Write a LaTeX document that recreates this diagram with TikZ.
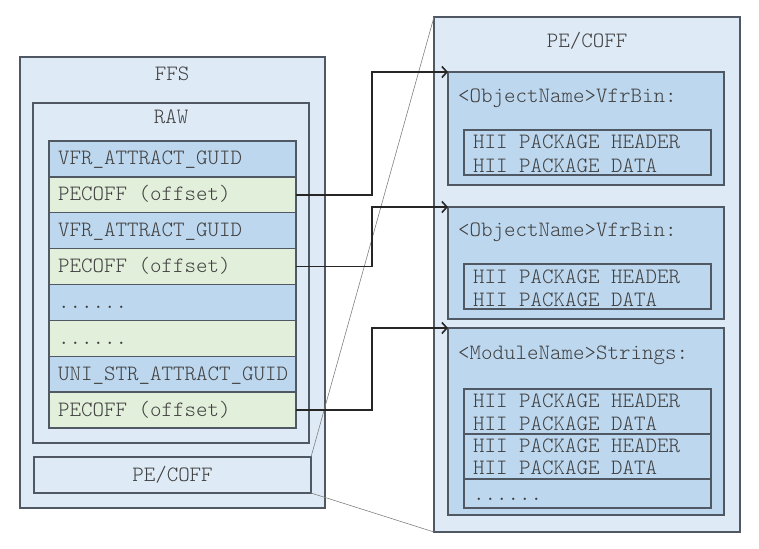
\documentclass[tikz,border=0pt]{standalone}
\usepackage{fontspec}
\newcommand\monof{\ttfamily\fontseries{l}\selectfont}
\usetikzlibrary{arrows.meta}
\definecolor{lb}{HTML}{DEEAF6}
\definecolor{mb}{HTML}{BDD7EE}
\definecolor{gr}{HTML}{E2EFDA}
\definecolor{bd}{HTML}{4F5863}
\definecolor{tx}{HTML}{404040}
\begin{document}
\begin{tikzpicture}[x=1pt,y=-1pt,
  box/.style={draw=bd, line width=1.3pt, inner sep=0pt, outer sep=0pt, anchor=north west},
  outer/.style={box, fill=lb},
  rowb/.style={box, fill=mb, minimum width=247, minimum height=35.9},
  rowg/.style={box, fill=gr, minimum width=247, minimum height=35.9},
  sub/.style={box, fill=mb, minimum width=276},
  hii/.style={box, fill=mb, minimum width=247},
  txt/.style={font=\fontsize{21.9}{26}\monof, text=tx, inner sep=0pt, anchor=base west},
  ttl/.style={font=\fontsize{21.9}{26}\monof, text=tx, inner sep=0pt, anchor=base},
  conn/.style={draw=black!85, line width=1.6pt, -{Straight Barb[length=5pt,width=11pt,line width=1.6pt]}},
  diag/.style={draw=black!50, line width=0.6pt}
]
\useasboundingbox (0,0) rectangle (759,548);

% left side
\node[outer, minimum width=305, minimum height=451] (ffs) at (20,57) {};
\node[ttl] (ffst) at (172,81) {FFS};
\node[outer, minimum width=276, minimum height=340] (raw) at (33,103) {};
\node[ttl] (rawt) at (171,124) {RAW};

\node[rowb] (r1) at (49,141) {};
\node[rowg] (r2) at (49,176.9) {};
\node[rowb] (r3) at (49,212.8) {};
\node[rowg] (r4) at (49,248.6) {};
\node[rowb] (r5) at (49,284.5) {};
\node[rowg] (r6) at (49,320.4) {};
\node[rowb] (r7) at (49,356.3) {};
\node[rowg] (r8) at (49,392.1) {};

\node[txt] (t1) at ([xshift=9pt,yshift=-6pt]r1.west) {VFR\_ATTRACT\_GUID};
\node[txt] (t2) at ([xshift=9pt,yshift=-6pt]r2.west) {PECOFF (offset)};
\node[txt] (t3) at ([xshift=9pt,yshift=-6pt]r3.west) {VFR\_ATTRACT\_GUID};
\node[txt] (t4) at ([xshift=9pt,yshift=-6pt]r4.west) {PECOFF (offset)};
\node[txt] (t5) at ([xshift=9pt,yshift=-6pt]r5.west) {......};
\node[txt] (t6) at ([xshift=9pt,yshift=-6pt]r6.west) {......};
\node[txt] (t7) at ([xshift=9pt,yshift=-6pt]r7.west) {UNI\_STR\_ATTRACT\_GUID};
\node[txt] (t8) at ([xshift=9pt,yshift=-6pt]r8.west) {PECOFF (offset)};

\node[outer, minimum width=277, minimum height=36] (pe) at (34,457) {};
\node[ttl] (pet) at (172.5,481) {PE/COFF};

% right side
\node[outer, minimum width=306, minimum height=515] (big) at (434,17) {};
\node[ttl] (bigt) at (587,48) {PE/COFF};

\node[sub, minimum height=113] (s1) at (448,72) {};
\node[txt] (s1t) at (458,103) {<ObjectName>VfrBin:};
\node[hii, minimum height=45] (h1) at (464,130) {};
\node[txt] (h1a) at (473,149) {HII PACKAGE HEADER};
\node[txt] (h1b) at (473,172) {HII PACKAGE DATA};

\node[sub, minimum height=112] (s2) at (448,207) {};
\node[txt] (s2t) at (458,236) {<ObjectName>VfrBin:};
\node[hii, minimum height=45] (h2) at (464,264) {};
\node[txt] (h2a) at (473,283) {HII PACKAGE HEADER};
\node[txt] (h2b) at (473,306) {HII PACKAGE DATA};

\node[sub, minimum height=187] (s3) at (448,328) {};
\node[txt] (s3t) at (458,359) {<ModuleName>Strings:};
\node[hii, minimum height=45] (h3a) at (464,389) {};
\node[hii, minimum height=45] (h3b) at (464,434) {};
\node[hii, minimum height=29] (h3c) at (464,479) {};
\node[txt] (h3a1) at (473,407) {HII PACKAGE HEADER};
\node[txt] (h3a2) at (473,430) {HII PACKAGE DATA};
\node[txt] (h3b1) at (473,452) {HII PACKAGE HEADER};
\node[txt] (h3b2) at (473,474) {HII PACKAGE DATA};
\node[txt] (h3c1) at (473,500) {......};

% zoom lines
\draw[diag] (pe.north east) -- (big.north west);
\draw[diag] (pe.south east) -- (big.south west);

% connectors
\coordinate (k) at (372,0);
\draw[conn] (r2.east) -| (k |- s1.north west) -- (s1.north west);
\draw[conn] (r4.east) -| (k |- s2.north west) -- (s2.north west);
\draw[conn] (r8.east) -| (k |- s3.north west) -- (s3.north west);
\end{tikzpicture}
\end{document}
